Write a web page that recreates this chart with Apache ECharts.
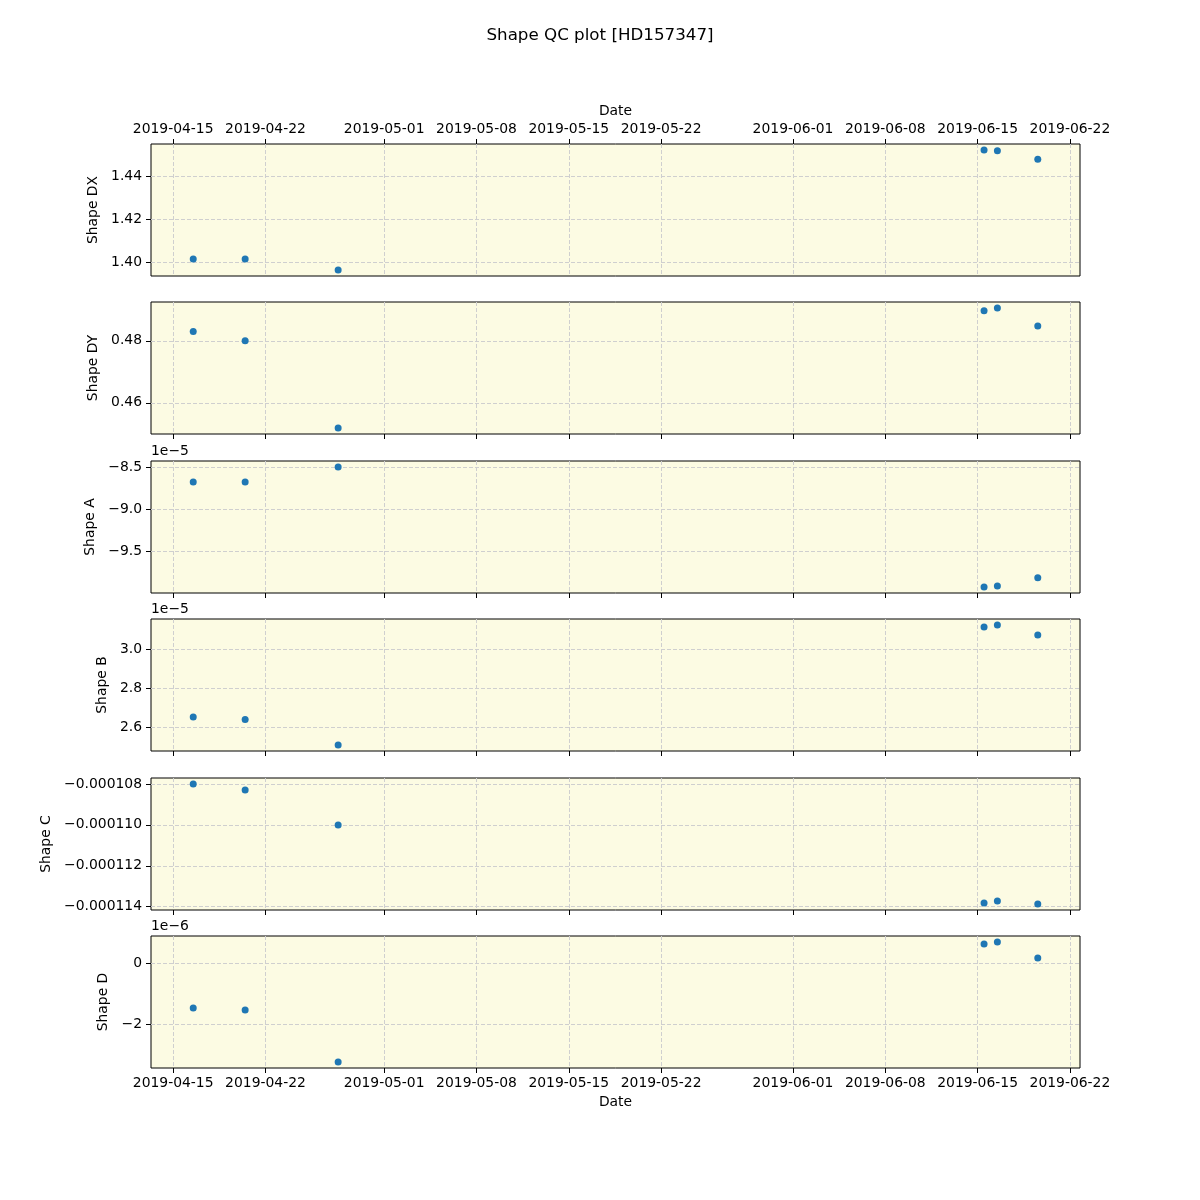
<!DOCTYPE html>
<html>
<head>
<meta charset="utf-8">
<script src="https://cdn.jsdelivr.net/npm/echarts@6/dist/echarts.min.js"></script>
<style>html,body{margin:0;padding:0;background:#fff}#c{width:1200px;height:1200px}</style>
</head>
<body>
<div id="c"></div>
<script>
// ---- data ----
const dates = ['2019-04-16T12:30:00Z', '2019-04-20T11:00:00Z', '2019-04-27T12:15:00Z',
               '2019-06-15T11:45:00Z', '2019-06-16T12:00:00Z', '2019-06-19T13:30:00Z'];
const shapeDX = [1.4014, 1.4014, 1.3963, 1.4525, 1.4521, 1.4482];
const shapeDY = [0.4830, 0.4800, 0.4519, 0.4897, 0.4906, 0.4848];
const shapeA = [-8.68e-5, -8.68e-5, -8.50e-5, -9.93e-5, -9.917e-5, -9.821e-5];
const shapeB = [2.654e-5, 2.641e-5, 2.512e-5, 3.112e-5, 3.122e-5, 3.071e-5];
const shapeC = [-1.0800e-4, -1.0829e-4, -1.1000e-4, -1.1382e-4, -1.1372e-4, -1.1387e-4];
const shapeD = [-1.475e-6, -1.541e-6, -3.246e-6, 0.623e-6, 0.689e-6, 0.164e-6];

// ---- tick labels ----
const dateTicks = ['2019-04-15', '2019-04-22', '2019-05-01', '2019-05-08', '2019-05-15',
                   '2019-05-22', '2019-06-01', '2019-06-08', '2019-06-15', '2019-06-22'];
const ticksDX = [1.40, 1.42, 1.44];
const ticksDY = [0.46, 0.48];
const ticksA = [-9.5e-5, -9.0e-5, -8.5e-5];
const ticksB = [2.6e-5, 2.8e-5, 3.0e-5];
const ticksC = [-1.14e-4, -1.12e-4, -1.10e-4, -1.08e-4];
const ticksD = [-2e-6, 0];

const panelNames = ['Shape DX', 'Shape DY', 'Shape A', 'Shape B', 'Shape C', 'Shape D'];
const panelValues = [shapeDX, shapeDY, shapeA, shapeB, shapeC, shapeD];
const panelTicks = [ticksDX, ticksDY, ticksA, ticksB, ticksC, ticksD];
const panelScale = [1, 1, 1e-5, 1e-5, 1, 1e-6];
const panelDigits = [2, 2, 1, 1, 6, 0];
const offsetTexts = ['', '', '1e\u22125', '1e\u22125', '', '1e\u22126'];

// ---- layout ----
const FONT = 'DejaVu Sans';
const FS = 13.9;
const tops = [144, 302, 461, 619, 778, 936];
const H = 132, LEFT = 151, RIGHT = 1080;
const nameGaps = [50, 50, 53, 41, 97, 40];

const xs = dates.map(d => Date.parse(d));
const xMinD = Math.min(...xs), xMaxD = Math.max(...xs);
const xPad = (xMaxD - xMinD) * 0.05;
const xTickVals = dateTicks.map(d => Date.parse(d + 'T00:00:00Z'));

function fmtDate(v) {
  const d = new Date(v);
  const p = n => String(n).padStart(2, '0');
  return d.getUTCFullYear() + '-' + p(d.getUTCMonth() + 1) + '-' + p(d.getUTCDate());
}
function minus(s) { return s.replace('-', '\u2212'); }

const grids = [], xAxes = [], yAxes = [], series = [], graphics = [];
panelNames.forEach((name, i) => {
  const vals = panelValues[i];
  const lo = Math.min(...vals), hi = Math.max(...vals);
  const pad = (hi - lo) * 0.05;
  grids.push({
    left: LEFT, top: tops[i], width: RIGHT - LEFT, height: H,
    show: true, backgroundColor: '#fcfbe3', borderColor: '#000', borderWidth: 1,
    outerBoundsMode: 'none'
  });
  const isTop = i === 0, isBottom = i === panelNames.length - 1;
  xAxes.push({
    gridIndex: i, type: 'value', min: xMinD - xPad, max: xMaxD + xPad,
    position: isTop ? 'top' : 'bottom',
    name: (isTop || isBottom) ? 'Date' : '',
    nameLocation: 'middle', nameGap: isTop ? 26 : 27,
    nameTextStyle: { fontFamily: FONT, fontSize: FS, color: '#000' },
    axisLine: { show: false, onZero: false },
    axisTick: { show: true, length: 5, lineStyle: { color: '#000' }, customValues: xTickVals },
    axisLabel: {
      show: isTop || isBottom, customValues: xTickVals, margin: 8,
      fontFamily: FONT, fontSize: FS, color: '#000', formatter: fmtDate
    },
    splitLine: { show: true, lineStyle: { color: '#cfcfcf', type: [4, 2], width: 1 } }
  });
  const sc = panelScale[i], dg = panelDigits[i];
  yAxes.push({
    gridIndex: i, type: 'value', min: lo - pad, max: hi + pad,
    name: name, nameLocation: 'middle', nameGap: nameGaps[i],
    nameTextStyle: { fontFamily: FONT, fontSize: FS, color: '#000' },
    axisLine: { show: false, onZero: false },
    axisTick: { show: true, length: 5, lineStyle: { color: '#000' }, customValues: panelTicks[i] },
    axisLabel: {
      customValues: panelTicks[i], margin: 9,
      fontFamily: FONT, fontSize: FS, color: '#000',
      formatter: v => minus((v / sc).toFixed(dg))
    },
    splitLine: { show: true, lineStyle: { color: '#cfcfcf', type: [4, 2], width: 1 } }
  });
  series.push({
    type: 'scatter', xAxisIndex: i, yAxisIndex: i,
    symbolSize: 7, itemStyle: { color: '#1f77b4', opacity: 1 },
    data: xs.map((x, k) => [x, vals[k]])
  });
  if (offsetTexts[i]) {
    graphics.push({
      type: 'text', left: LEFT, top: tops[i] - 17,
      style: { text: offsetTexts[i], font: FS + 'px "' + FONT + '"', fill: '#000' }
    });
  }
});

const chart = echarts.init(document.getElementById('c'), null, { renderer: 'canvas' });
chart.setOption({
  animation: false,
  backgroundColor: '#fff',
  title: {
    text: 'Shape QC plot [HD157347]', left: 'center', top: 22,
    textStyle: { fontFamily: FONT, fontSize: 16.7, fontWeight: 'normal', color: '#000' }
  },
  grid: grids, xAxis: xAxes, yAxis: yAxes, series: series, graphic: graphics
});
</script>
</body>
</html>
